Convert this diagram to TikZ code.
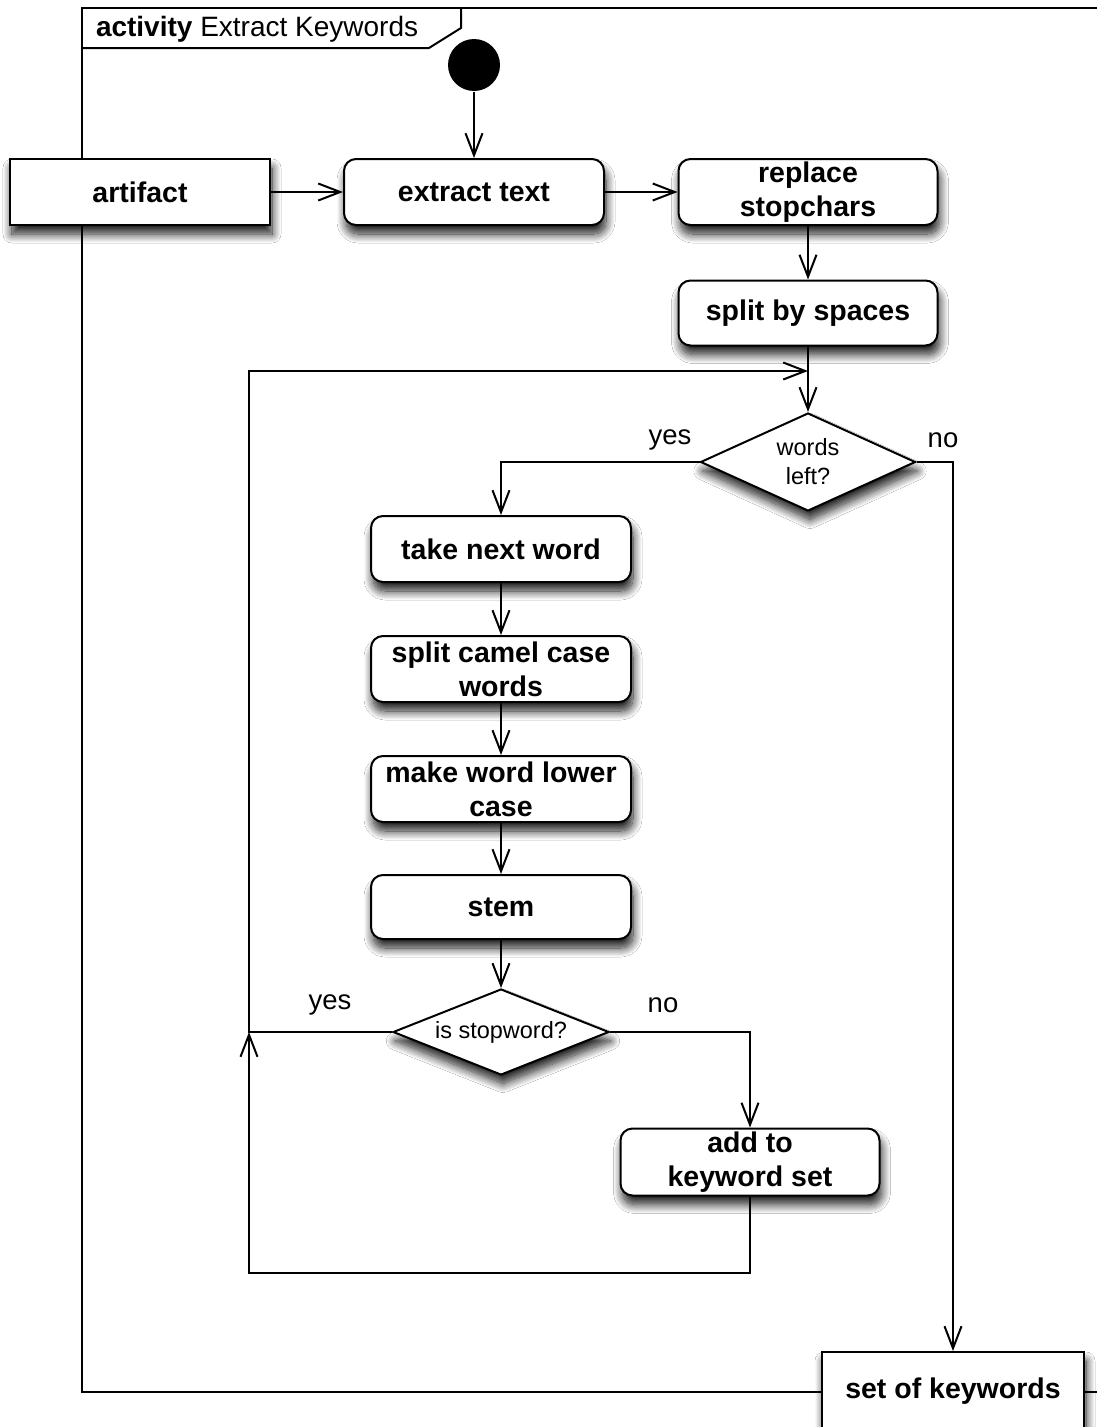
\documentclass[tikz,border=0pt]{standalone}
\usepackage{fontspec}
\setmainfont{Liberation Sans}
\usetikzlibrary{arrows.meta,shapes.geometric,shadows.blur}
\begin{document}
\begin{tikzpicture}[x=1pt,y=-1pt,
  line width=2pt,
  shade/.style={blur shadow={shadow xshift=2pt,shadow yshift=-9pt,shadow blur radius=9pt,shadow blur steps=14,shadow opacity=90}},
  action/.style={draw,fill=white,rounded corners=12pt,shade,minimum width=260pt,minimum height=66pt,
    inner sep=2pt,align=center,font=\fontsize{28.5}{34}\selectfont\bfseries},
  objnode/.style={draw,fill=white,shade,minimum width=260pt,minimum height=66pt,
    inner sep=2pt,align=center,font=\fontsize{28.5}{34}\selectfont\bfseries},
  decision/.style={draw,fill=white,diamond,shape aspect=2.5,shade,inner sep=0pt,align=center,
    font=\fontsize{23.5}{29}\selectfont},
  guard/.style={font=\fontsize{27.5}{33}\selectfont,inner sep=0pt},
  flow/.style={-{Straight Barb[length=22pt,width=17pt,line width=2pt]}},
  startnode/.style={circle,fill=black,minimum size=52pt,inner sep=0pt}
]
\useasboundingbox (0,0) rectangle (1097,1427);
\fill[white] (0,0) rectangle (1097,1427);

% activity frame with its name tab
\begin{scope}
\clip (0,0) rectangle (1097,1427);
\draw (82,8) rectangle (1120,1392);
\draw (82,48) -- (429,48) -- (461,28) -- (461,8);
\end{scope}
\node[anchor=west,inner sep=0pt,font=\fontsize{28}{33}\selectfont] (title) at (95,29)
  {\textbf{activity} Extract Keywords};

% nodes
\node[startnode] (start) at (474,65) {};
\node[objnode] (artifact) at (140,192) {artifact};
\node[action] (extract) at (474,192) {extract text};
\node[action,minimum width=259pt] (replace) at (808,192) {replace\\stopchars};
\node[action,minimum width=259pt,minimum height=65pt] (spaces) at (808,313) {split by spaces};
\node[decision,minimum width=215pt,minimum height=98pt] (left) at (808,462) {words\\left?};
\node[action] (take) at (501,549) {take next word};
\node[action] (camel) at (501,669) {split camel case\\words};
\node[action] (lower) at (501,789) {make word lower\\case};
\node[action,minimum height=64pt] (stem) at (501,907) {stem};
\node[decision,minimum width=216pt,minimum height=86pt] (stop) at (501,1032) {is stopword?};
\node[action,minimum width=259pt,minimum height=67pt] (add) at (750,1162) {add to\\keyword set};
\node[objnode,minimum width=262pt,minimum height=78pt] (keywords) at (953,1391) {set of keywords};

% loop corners
\coordinate (merge) at (808,371);
\coordinate (loopTop) at (249,371);
\coordinate (loopBot) at (249,1273);
\coordinate (join) at (249,1032);

% connectors
\draw[flow] (start) -- (extract);
\draw[flow] (artifact) -- (extract);
\draw[flow] (extract) -- (replace);
\draw[flow] (replace) -- (spaces);
\draw[flow] (spaces) -- (left);
\draw[flow] (left.west) -| (take.north);
\draw[flow] (left.east) -| (keywords.north);
\draw[flow] (take) -- (camel);
\draw[flow] (camel) -- (lower);
\draw[flow] (lower) -- (stem);
\draw[flow] (stem) -- (stop);
\draw[flow] (stop.east) -| (add.north);
\draw[flow] (stop.west) -- (join) -- (loopTop) -- (merge);
\draw[flow] (add.south) |- (loopBot) -- (join);

% guards
\node[guard] (g1) at (670,440) {yes};
\node[guard] (g2) at (943,440) {no};
\node[guard] (g3) at (330,1005) {yes};
\node[guard] (g4) at (663,1005) {no};
\end{tikzpicture}
\end{document}
